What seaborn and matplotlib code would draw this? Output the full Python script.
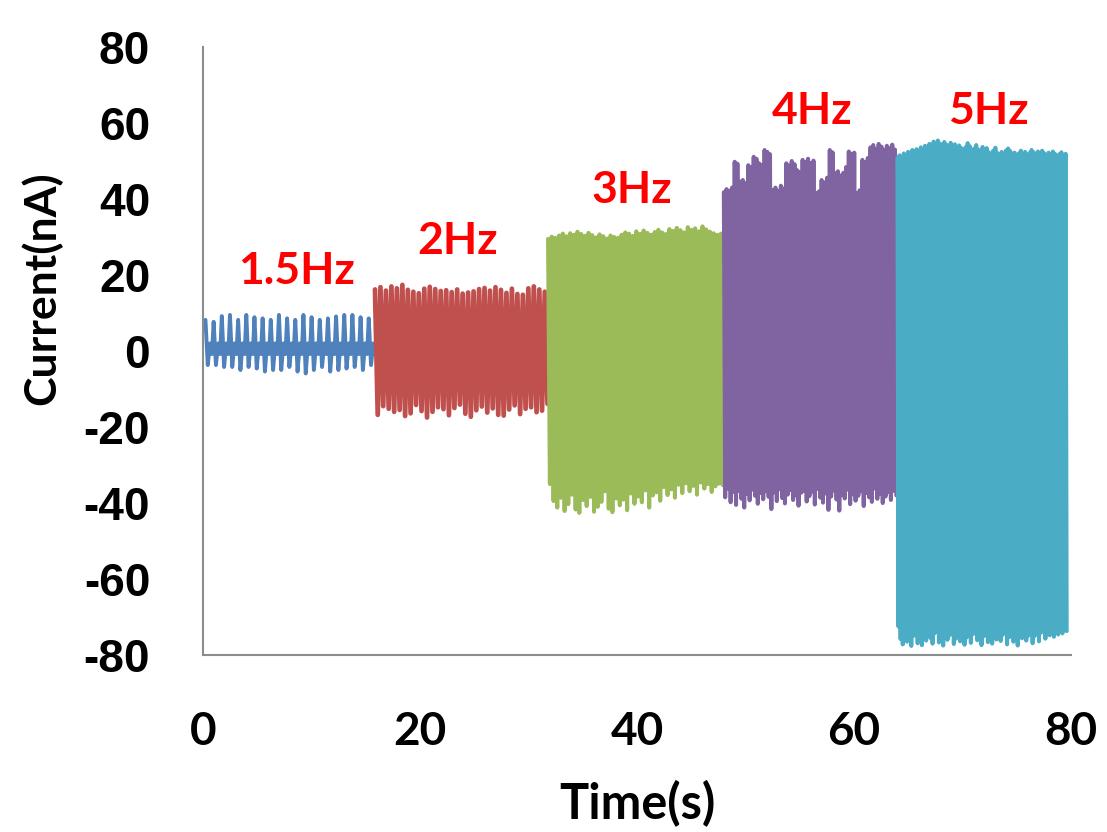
import numpy as np
import pandas as pd
import matplotlib
matplotlib.use("Agg")
import matplotlib.pyplot as plt
import seaborn as sns

# ---------------- data ----------------
segments = ["1.5Hz", "2Hz", "3Hz", "4Hz", "5Hz"]
seg_start = [0.0, 15.85, 31.8, 48.0, 64.0]
seg_end = [15.8, 31.75, 47.9, 63.9, 79.6]
label_x = [8.6, 23.5, 39.5, 56.1, 72.4]
label_y = [21.0, 29.0, 42.4, 63.2, 63.2]

blue_hi = [8.2, 7.7, 9.2, 9.5, 8.2, 9.5, 8.9, 8.6, 8.2, 9.5, 8.6, 8.2, 9.5, 8.9, 8.2, 8.6, 9.1, 9.5, 9.5, 8.9, 8.6]
blue_lo = [-3.7, -3.7, -4.2, -4.2, -5.0, -4.2, -4.6, -5.4, -5.0, -5.0, -4.2, -5.4, -5.9, -5.0, -4.2, -5.4, -5.0, -4.6, -4.2, -5.0, -3.7]
blue_mid = [2.0, -0.8]

red_hi = [16.2, 16.8, 15.9, 17.0, 16.5, 17.4, 16.1, 15.6, 15.2, 16.4, 16.9, 16.3, 15.8, 16.0, 15.5, 16.2,
          15.1, 15.4, 15.7, 16.3, 16.6, 15.9, 16.8, 16.1, 15.3, 16.4, 15.0, 14.8, 16.5, 17.0, 16.2, 15.6]
red_lo = [-16.8, -14.5, -15.2, -16.0, -15.5, -17.1, -16.4, -14.2, -15.8, -17.5, -16.0, -14.8, -15.3, -16.9, -15.0, -14.1,
          -16.5, -17.3, -15.6, -14.6, -16.2, -15.1, -16.8, -17.0, -15.4, -14.3, -16.6, -15.2, -14.8, -16.1, -15.7, -13.9]

green_hi = [29.5, 30.1, 29.8, 30.4, 30.9, 30.2, 31.0, 30.6, 31.4, 30.8, 30.3, 31.1, 30.5, 29.9, 30.7, 30.2,
            29.6, 30.4, 30.0, 29.8, 30.6, 31.2, 30.9, 30.3, 31.5, 30.8, 31.7, 31.1, 30.6, 31.3, 31.9, 31.2,
            30.8, 32.1, 31.6, 32.4, 31.8, 31.2, 32.6, 31.9, 32.3, 31.5, 32.8, 32.0, 31.4, 31.0, 30.6, 30.9]
green_lo = [-35.0, -39.5, -41.2, -38.6, -42.1, -40.3, -37.8, -41.7, -42.6, -39.2, -40.8, -38.4, -42.3, -41.0, -39.7, -36.9,
            -41.5, -42.4, -38.8, -40.6, -39.1, -41.9, -37.5, -40.2, -38.3, -39.8, -36.7, -41.2, -38.0, -37.2, -39.4, -35.8,
            -37.9, -36.4, -38.6, -35.2, -37.4, -34.8, -36.9, -35.5, -37.8, -34.6, -36.2, -35.0, -37.1, -35.6, -34.9, -35.3]

purple_hi = [41.8, 42.6, 42.2, 43.0, 49.8, 49.3, 44.6, 45.0, 44.2, 48.9, 48.4, 51.1, 50.6, 49.4, 49.0, 52.9,
             52.4, 51.8, 42.4, 43.0, 42.1, 43.5, 42.8, 49.4, 48.8, 50.0, 49.2, 47.6, 47.1, 50.3, 49.8, 50.6,
             49.5, 50.1, 41.6, 42.0, 45.0, 44.4, 45.6, 52.9, 52.3, 46.8, 47.3, 46.2, 46.9, 48.4, 52.5, 51.9,
             52.2, 41.6, 42.3, 50.3, 49.7, 50.8, 53.6, 54.2, 53.1, 54.5, 53.8, 52.9, 54.0, 53.4, 54.3, 53.0]
purple_lo = [-38.5, -36.2, -39.8, -37.1, -40.5, -36.8, -38.9, -41.2, -37.6, -39.3, -36.5, -38.1, -40.2, -37.4, -39.0, -36.9,
             -38.4, -41.6, -37.2, -39.5, -36.4, -38.7, -40.1, -37.8, -36.6, -39.2, -38.0, -40.7, -37.3, -36.8, -39.6, -38.2,
             -37.0, -40.4, -36.3, -38.6, -39.9, -37.5, -41.8, -38.3, -36.7, -39.1, -42.0, -37.9, -38.8, -36.5, -40.3, -37.7,
             -39.4, -38.1, -36.9, -40.8, -37.4, -38.5, -39.7, -36.2, -38.9, -37.6, -40.0, -38.3, -37.1, -39.2, -36.8, -38.0]

cyan_hi = [50.8, 51.5, 50.9, 52.0, 51.3, 52.4, 51.7, 52.9, 52.2, 53.1, 52.5, 53.6, 52.8, 54.0, 53.2, 54.5,
           53.7, 55.1, 54.2, 55.4, 54.6, 53.9, 55.0, 54.3, 53.5, 54.8, 53.8, 54.4, 53.1, 54.1, 53.4, 52.7,
           53.6, 54.7, 53.9, 52.8, 53.3, 54.2, 53.0, 52.5, 53.7, 52.9, 53.4, 52.3, 51.8, 52.7, 53.5, 52.1,
           51.6, 52.4, 51.9, 52.8, 53.3, 52.6, 51.7, 52.2, 51.5, 52.0, 52.7, 51.8, 52.4, 51.3, 52.1, 52.9,
           52.3, 51.6, 52.5, 51.9, 52.7, 52.0, 51.4, 52.2, 51.7, 52.5, 51.9, 51.2, 51.8, 52.3, 51.6, 51.9]
cyan_lo = [-72.5, -75.8, -77.2, -74.1, -76.5, -73.3, -77.6, -75.0, -72.8, -76.9, -74.6, -77.4, -73.9, -76.2, -71.8, -75.5,
           -77.0, -74.3, -72.2, -76.7, -75.2, -77.5, -73.6, -76.0, -74.8, -72.6, -77.1, -75.7, -73.2, -76.4, -74.0, -77.3,
           -75.4, -72.9, -76.8, -74.5, -69.8, -76.1, -73.7, -77.4, -75.1, -72.4, -76.6, -74.2, -77.0, -73.5, -75.9, -71.5,
           -76.3, -74.7, -72.1, -77.2, -75.3, -73.0, -76.5, -74.4, -77.5, -73.8, -75.6, -72.7, -76.2, -74.9, -73.4, -76.9,
           -75.0, -71.9, -76.4, -74.1, -72.5, -75.7, -73.6, -74.8, -72.3, -75.2, -73.1, -74.6, -72.0, -74.3, -73.0, -73.7]

colors = ["#4F81BD", "#C0504D", "#9BBB59", "#8064A2", "#4BACC6"]
line_widths = [2.8, 3.4, 2.9, 2.9, 2.9]

# ---------------- build long-form table ----------------
rows = []
n_b = len(blue_hi)
period = (seg_end[0] - seg_start[0]) / n_b
offs = [0.0, 0.28, 0.55, 0.8]
for i in range(n_b):
    t0 = seg_start[0] + i * period
    vals = [blue_hi[i], blue_lo[i], blue_mid[0], blue_mid[1]]
    for o, v in zip(offs, vals):
        rows.append((t0 + (o + 0.3) * period, v, segments[0]))

for k, (hi, lo) in enumerate([(red_hi, red_lo), (green_hi, green_lo),
                              (purple_hi, purple_lo), (cyan_hi, cyan_lo)], start=1):
    seq = []
    for h, l in zip(hi, lo):
        seq += [h, l]
    ts = np.linspace(seg_start[k], seg_end[k], len(seq))
    for t, v in zip(ts, seq):
        rows.append((t, v, segments[k]))

df = pd.DataFrame(rows, columns=["Time", "Current", "seg"])

# ---------------- plot ----------------
sns.set_style("white")
plt.rcParams["font.family"] = ["Lato", "DejaVu Sans"]
plt.rcParams["axes.unicode_minus"] = False

fig = plt.figure(figsize=(11.07, 8.32), dpi=100)
ax = fig.add_axes([0.1834, 0.2127, 0.7841, 0.7308])

for seg, col, lw in zip(segments, colors, line_widths):
    sns.lineplot(data=df[df["seg"] == seg], x="Time", y="Current",
                 color=col, estimator=None, sort=False,
                 linewidth=lw, legend=False, ax=ax)

ax.set_xlim(0, 80)
ax.set_ylim(-80, 80)
ax.set_xticks([0, 20, 40, 60, 80])
ax.set_yticks([-80, -60, -40, -20, 0, 20, 40, 60, 80])

for s in ["top", "right"]:
    ax.spines[s].set_visible(False)
for s in ["left", "bottom"]:
    ax.spines[s].set_color("#8C8C8C")
    ax.spines[s].set_linewidth(1.5)

ax.tick_params(axis="both", direction="out", length=14, width=1.3,
               color="#8C8C8C", labelcolor="black")
ax.tick_params(axis="x", pad=26)
ax.tick_params(axis="y", pad=24)
for lab in ax.get_xticklabels():
    lab.set_fontfamily(["Lato", "DejaVu Sans"])
    lab.set_fontweight("bold")
    lab.set_fontsize(33)
for lab in ax.get_yticklabels():
    lab.set_fontfamily(["Liberation Sans", "DejaVu Sans"])
    lab.set_fontweight("bold")
    lab.set_fontsize(33)

ax.set_xlabel("Time(s)", fontsize=35, fontweight="bold", color="black")
ax.set_ylabel("Current(nA)", fontsize=32, fontweight="bold", color="black")
ax.xaxis.set_label_coords(0.5, -0.205)
ax.yaxis.set_label_coords(-0.162, 0.603)

for name, x, y in zip(segments, label_x, label_y):
    ax.text(x, y, name, color="#FF0000", fontsize=32, fontweight="bold",
            ha="center", va="center")

fig.savefig("out.png", dpi=100)
